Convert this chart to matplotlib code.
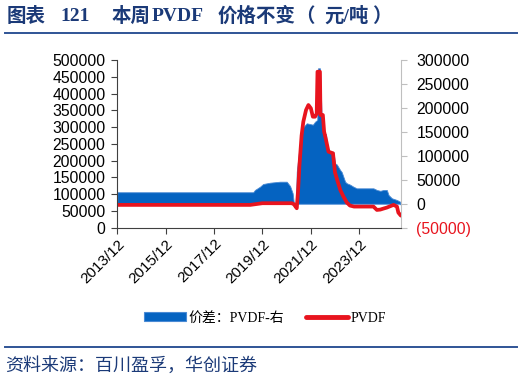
import matplotlib
matplotlib.use('Agg')
import matplotlib.pyplot as plt
import pandas as pd
from matplotlib.patches import Patch
from matplotlib.lines import Line2D
from matplotlib.transforms import ScaledTranslation

# ---------------- data ----------------
pvdf_dates = ["2013-12-01", "2019-06-01", "2019-12-01", "2021-02-15", "2021-03-20", "2021-05-03",
              "2021-05-25", "2021-06-13", "2021-07-01", "2021-07-15", "2021-08-10", "2021-09-20",
              "2021-10-26", "2021-12-02", "2022-01-01", "2022-02-03", "2022-02-28", "2022-03-12",
              "2022-04-18", "2022-04-26", "2022-06-01", "2022-06-20", "2022-07-19", "2022-08-25",
              "2022-11-01", "2022-12-01", "2023-01-15", "2023-02-20", "2023-04-10", "2023-05-29",
              "2023-07-15", "2023-09-15", "2024-07-04", "2024-08-25", "2024-10-15", "2024-12-02",
              "2025-01-22", "2025-03-13", "2025-05-03", "2025-06-24", "2025-07-15", "2025-08-22"]
pvdf_price = [68000, 68000, 73000, 73000, 70000, 58000,
              117500, 187000, 236700, 275000, 316000, 350900,
              365800, 356000, 330900, 330900, 340000, 465000,
              465000, 336000, 336000, 286200, 261500, 226600,
              221800, 165000, 135000, 112000, 92000, 75000,
              66000, 63000, 63000, 53000, 54000, 57000,
              60000, 64000, 68000, 63000, 45000, 36000]

spread_dates = ["2013-12-01", "2019-07-15", "2019-08-10", "2019-10-26", "2019-12-12", "2020-03-24",
                "2020-08-21", "2020-12-02", "2021-01-22", "2021-03-02", "2021-03-20", "2021-04-20",
                "2021-05-03", "2021-06-15", "2021-08-10", "2021-10-01", "2022-01-01", "2022-02-03",
                "2022-03-09", "2022-03-20", "2022-04-18", "2022-05-14", "2022-06-09", "2022-07-19",
                "2022-07-30", "2022-08-25", "2022-11-07", "2022-12-02", "2022-12-28", "2023-02-17",
                "2023-03-13", "2023-05-03", "2023-05-29", "2023-07-15", "2023-09-05", "2023-10-26",
                "2024-07-04", "2024-08-25", "2024-10-15", "2024-12-02", "2025-01-22", "2025-02-17",
                "2025-04-08", "2025-06-24", "2025-08-10", "2025-08-22"]
spread_value = [24000, 24000, 28700, 35600, 41200, 43900,
                46000, 46000, 37000, 21800, 1500, 3000,
                66900, 120000, 160000, 167900, 165000, 171200,
                175000, 282700, 282700, 181600, 150300, 145000,
                129500, 108600, 108600, 84400, 82000, 70400,
                66000, 46000, 42700, 40000, 35600, 32200,
                32200, 28700, 27000, 28700, 28700, 18200,
                11400, 7800, 4300, -3000]

left_ticks = [0, 50000, 100000, 150000, 200000, 250000, 300000, 350000, 400000, 450000, 500000]
right_ticks = [-50000, 0, 50000, 100000, 150000, 200000, 250000, 300000]
right_labels = ["(50000)", "0", "50000", "100000", "150000", "200000", "250000", "300000"]
x_ticks = ["2013-12-01", "2015-12-01", "2017-12-01", "2019-12-01", "2021-12-01", "2023-12-01"]
x_labels = ["2013/12", "2015/12", "2017/12", "2019/12", "2021/12", "2023/12"]

title_parts = ["图表", "121", "本周", "PVDF", "价格不变", "（", "元/吨", "）"]

# ---------------- style ----------------
BLUE = "#0563C1"
BLUE_EDGE = "#4A8AD4"
RED = "#E8141E"
NAVY = "#1B3A78"
LINE_BLUE = "#2F5496"
TICK_FONT = "Liberation Sans"
SERIF_CJK = ["Liberation Serif", "Noto Sans CJK SC"]

fig = plt.figure(figsize=(5.24, 3.82), dpi=100)
ax = fig.add_axes([117.3 / 524, 1 - 227.7 / 382, (401 - 117.3) / 524, (227.7 - 60) / 382])
ax2 = ax.twinx()

ax2.fill_between(pd.to_datetime(spread_dates), 0, spread_value, facecolor=BLUE,
                 edgecolor=BLUE_EDGE, linewidth=0.6)
ax.plot(pd.to_datetime(pvdf_dates), pvdf_price, color=RED, lw=2.7,
        solid_joinstyle='round', solid_capstyle='round')

ax.set_zorder(ax2.get_zorder() + 1)
ax.patch.set_visible(False)

ax.set_xlim(pd.Timestamp("2013-12-01"), pd.Timestamp("2025-08-24"))
ax.set_ylim(0, 500000)
ax2.set_ylim(-50000, 300000)

ax.set_yticks(left_ticks)
ax.set_yticklabels([str(v) for v in left_ticks], fontsize=11.3, family=TICK_FONT)
ax2.set_yticks(right_ticks)
ax2.set_yticklabels(right_labels, fontsize=11.3, family=TICK_FONT)
for t, v in zip(ax2.get_yticklabels(), right_ticks):
    t.set_color(RED if v < 0 else "black")

ax.set_xticks(pd.to_datetime(x_ticks))
ax.set_xticklabels(x_labels, fontsize=11, family=TICK_FONT, rotation=45,
                   ha='right', va='top', rotation_mode='anchor')
for lab in ax.get_xticklabels():
    lab.set_transform(lab.get_transform() + ScaledTranslation(4 / 100, -4 / 100, fig.dpi_scale_trans))

for s in ["top", "right"]:
    ax.spines[s].set_visible(False)
ax.spines["left"].set_color("#404040")
ax.spines["bottom"].set_color("#404040")
for s in ["top", "left", "bottom"]:
    ax2.spines[s].set_visible(False)
ax2.spines["right"].set_color("#BFBFBF")

ax.tick_params(axis='y', length=4.5, width=0.8, color="#404040", pad=4)
ax.tick_params(axis='x', length=4.5, width=0.8, color="#404040", pad=2)
ax2.tick_params(axis='y', length=4.5, width=0.8, color="#BFBFBF", pad=6.5)

# legend
handles = [Patch(facecolor=BLUE, edgecolor=BLUE_EDGE, linewidth=0.8),
           Line2D([0], [0], color=RED, lw=3.5, solid_capstyle='round')]
leg = fig.legend(handles, ["价差：PVDF-右", "PVDF"], loc='center',
                 bbox_to_anchor=(265 / 524, 1 - 318 / 382), ncol=2, frameon=False,
                 prop={'family': SERIF_CJK, 'size': 10}, handlelength=3.0,
                 handleheight=0.6, handletextpad=0.2, columnspacing=1.6)

# title (placed piece by piece) & decoration
title_x = [7, 60, 112, 152, 218, 295, 324, 372]
for txt, x0 in zip(title_parts, title_x):
    fig.text(x0 / 524, 1 - 16.5 / 382, txt, fontsize=14, fontweight='bold', color=NAVY,
             family=SERIF_CJK, va='center', ha='left')
fig.add_artist(Line2D([5 / 524, 517 / 524], [1 - 33.3 / 382] * 2, color=LINE_BLUE, lw=1.4))
fig.add_artist(Line2D([5 / 524, 517 / 524], [1 - 347.3 / 382] * 2, color=LINE_BLUE, lw=1.4))
fig.text(5 / 524, 1 - 366 / 382, "资料来源：百川盈孚，华创证券", fontsize=13, style='italic',
         color=NAVY, family=["Noto Sans CJK SC"], va='center', ha='left')

fig.savefig("out.png", dpi=100)
